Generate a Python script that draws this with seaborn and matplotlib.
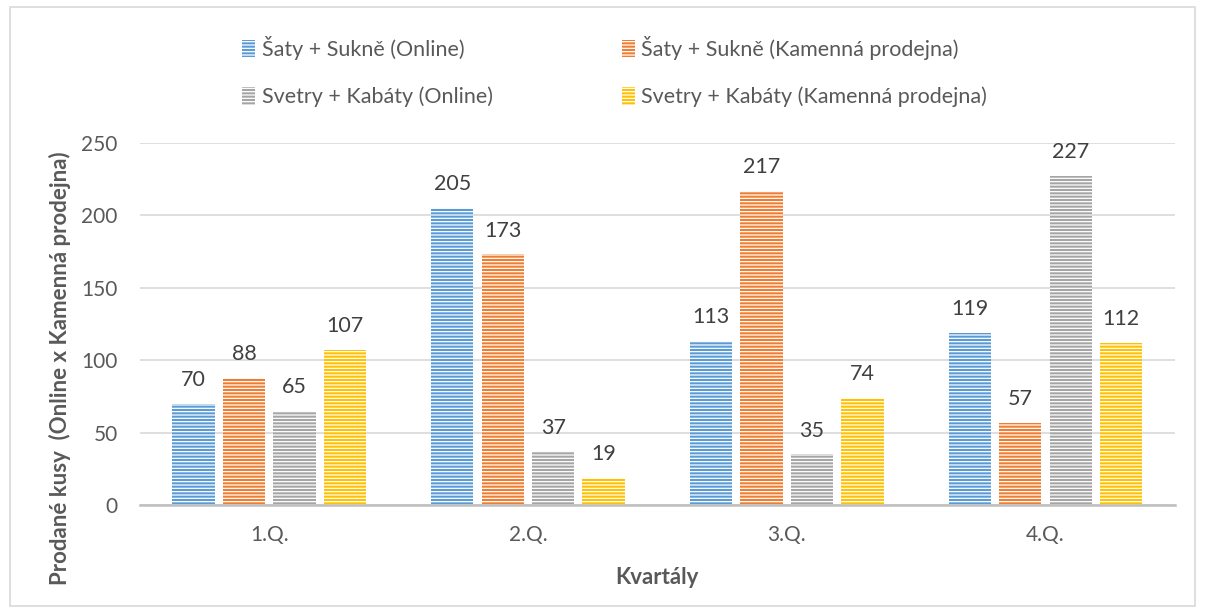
import pandas as pd
import matplotlib.pyplot as plt
import seaborn as sns
from matplotlib.patches import Rectangle

quarters = ['1.Q.', '2.Q.', '3.Q.', '4.Q.']
series = [
    'Šaty + Sukně (Online)',
    'Šaty + Sukně (Kamenná prodejna)',
    'Svetry + Kabáty (Online)',
    'Svetry + Kabáty (Kamenná prodejna)',
]
satyOnline = [70, 205, 113, 119]
satyKamenna = [88, 173, 217, 57]
svetryOnline = [65, 37, 35, 227]
svetryKamenna = [107, 19, 74, 112]
colors = ['#5B9BD5', '#ED7D31', '#A5A5A5', '#FFC000']


def buildFrame():
    rows = []
    for name, values in zip(series, [satyOnline, satyKamenna, svetryOnline, svetryKamenna]):
        for q, v in zip(quarters, values):
            rows.append([q, name, v])
    return pd.DataFrame(rows, columns=['quarter', 'series', 'value'])


def main():
    sns.set_style('white')
    plt.rcParams['font.family'] = ['Lato', 'DejaVu Sans']
    plt.rcParams['hatch.color'] = 'white'
    plt.rcParams['hatch.linewidth'] = 0.9

    df = buildFrame()

    fig = plt.figure(figsize=(12.05, 6.13), dpi=100)
    ax = fig.add_axes([0.116, 0.176, 0.859, 0.591])

    sns.barplot(data=df, x='quarter', y='value', hue='series', order=quarters,
                hue_order=series, palette=colors, width=0.78, gap=0.16,
                saturation=1, ax=ax, legend=True)

    for p in ax.patches:
        p.set_hatch('-----')
        p.set_edgecolor('white')
        p.set_linewidth(0)
        if hasattr(p, 'set_hatchcolor'):
            p.set_hatchcolor('white')

    for cont in ax.containers:
        ax.bar_label(cont, fmt='%d', padding=10, fontsize=15.5, color='#404040')

    ax.set_ylim(0, 250)
    ax.set_xlim(-0.5, 3.5)
    ax.set_yticks([0, 50, 100, 150, 200, 250])
    ax.yaxis.grid(True, color='#D9D9D9', linewidth=1.2)
    ax.set_axisbelow(True)
    for s in ['top', 'right', 'left']:
        ax.spines[s].set_visible(False)
    ax.spines['bottom'].set_color('#BFBFBF')
    ax.spines['bottom'].set_linewidth(1.8)
    ax.tick_params(axis='both', length=0, labelsize=15, labelcolor='#595959', pad=16)
    ax.tick_params(axis='x', pad=14)

    ax.set_xlabel('Kvartály', fontsize=16, fontweight='bold', color='#595959', labelpad=16)
    ax.set_ylabel('Prodané kusy  (Online x Kamenná prodejna)', fontsize=16,
                  fontweight='bold', color='#595959')
    ax.yaxis.set_label_coords(-0.066, 0.378)

    handles, labels = ax.get_legend_handles_labels()
    ax.legend_.remove()
    order = [0, 2, 1, 3]
    fig.legend([handles[i] for i in order], [labels[i] for i in order], ncol=2,
               loc='upper left', bbox_to_anchor=(0.185, 0.973), frameon=False,
               fontsize=15.5, labelcolor='#595959', handlelength=0.6,
               handleheight=0.9, handletextpad=0.3, columnspacing=6.0,
               labelspacing=1.25)

    fig.patches.append(Rectangle((0.008, 0.012), 0.984, 0.976, transform=fig.transFigure,
                                 fill=False, edgecolor='#D9D9D9', linewidth=1.2))

    plt.savefig('out.png', dpi=100)


if __name__ == '__main__':
    main()
